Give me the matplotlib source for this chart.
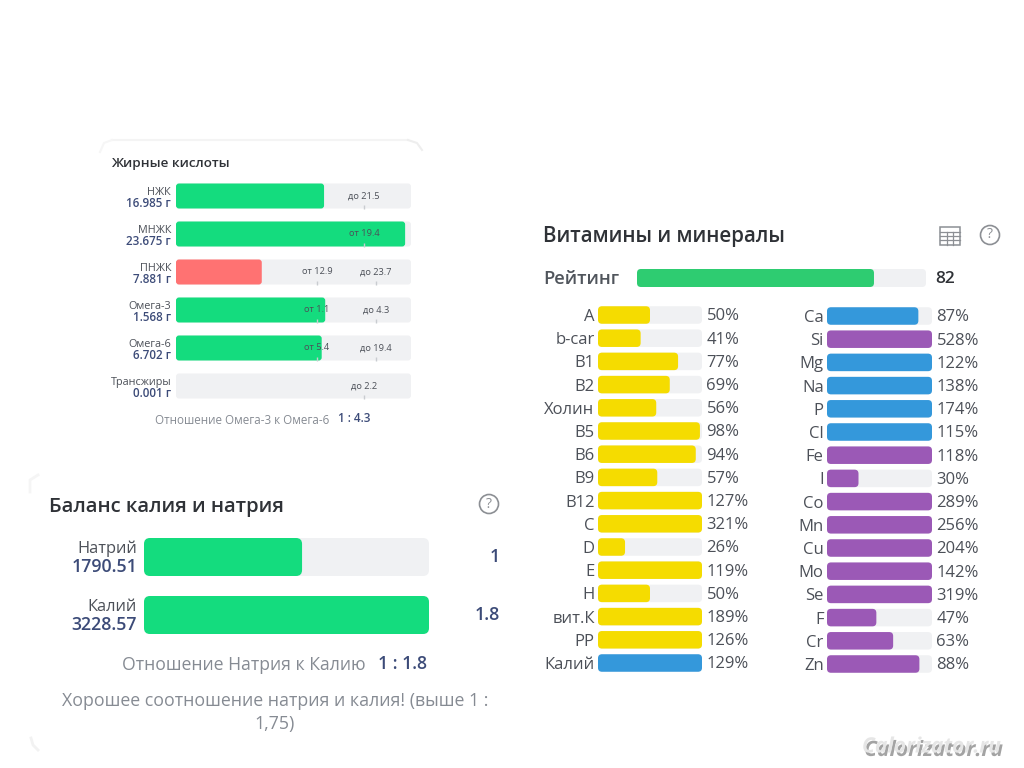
import matplotlib
matplotlib.use("Agg")
import matplotlib.pyplot as plt
import matplotlib.patheffects as pe
from matplotlib.patches import Circle, FancyBboxPatch, Rectangle

plt.rcParams['font.family'] = ['Open Sans', 'DejaVu Sans']

W, H = 1024, 768

# Fatty acids (fill and limit marks are in % of the track)
fat_names = ['НЖК', 'МНЖК', 'ПНЖК', 'Омега-3', 'Омега-6', 'Трансжиры']
fat_values = ['16.985 г', '23.675 г', '7.881 г', '1.568 г', '6.702 г', '0.001 г']
fat_fill = [63, 97.5, 36.5, 63.5, 62, 0]
fat_colors = ['#14dc7e', '#14dc7e', '#ff7272', '#14dc7e', '#14dc7e', '#14dc7e']
fat_low_text = [None, 'от 19.4', 'от 12.9', 'от 1.1', 'от 5.4', None]
fat_low_mark = [None, 80, 60, 60, 60, None]
fat_high_text = ['до 21.5', None, 'до 23.7', 'до 4.3', 'до 19.4', 'до 2.2']
fat_high_mark = [80, None, 85, 85, 85, 80]

# Potassium / sodium
balance_names = ['Натрий', 'Калий']
balance_values = [1790.51, 3228.57]
balance_ratio = ['1', '1.8']

# Vitamins and minerals
rating = 82
vit_names = ['A', 'b-car', 'B1', 'B2', 'Холин', 'B5', 'B6', 'B9', 'B12', 'C', 'D', 'E', 'H',
             'вит.К', 'PP', 'Калий']
vit_pct = [50, 41, 77, 69, 56, 98, 94, 57, 127, 321, 26, 119, 50, 189, 126, 129]
min_names = ['Ca', 'Si', 'Mg', 'Na', 'P', 'Cl', 'Fe', 'I', 'Co', 'Mn', 'Cu', 'Mo', 'Se', 'F',
             'Cr', 'Zn']
min_pct = [87, 528, 122, 138, 174, 115, 118, 30, 289, 256, 204, 142, 319, 47, 63, 88]

TRACK = '#f0f1f3'
GREEN = '#14dc7e'
YELLOW = '#f5dc00'
BLUE = '#3498db'
PURPLE = '#9b59b6'
NAVY = '#3c4b78'
DARK = '#2f3237'
LABEL = '#4c5058'
GREY = '#868b93'

vit_colors = [YELLOW] * 15 + [BLUE]
min_colors = [BLUE, PURPLE, BLUE, BLUE, BLUE, BLUE] + [PURPLE] * 10

fig = plt.figure(figsize=(W / 100, H / 100), dpi=100, facecolor='white')

# overlay in pixel coordinates for titles, icons and card edges
page = fig.add_axes([0, 0, 1, 1])
page.set_xlim(0, W)
page.set_ylim(H, 0)
page.axis('off')


def bar_axes(x0, x1, y0, y1, xmax, n):
    # axes over a pixel box, one row per unit on y
    ax = fig.add_axes([x0 / W, 1 - y1 / H, (x1 - x0) / W, (y1 - y0) / H])
    ax.set_xlim(0, xmax)
    ax.set_ylim(n - 0.5, -0.5)
    ax.patch.set_alpha(0)
    for s in ax.spines.values():
        s.set_visible(False)
    ax.set_xticks([])
    ax.set_yticks([])
    ax.tick_params(length=0)
    return ax


def rounded_bar(ax, row, value, height, color, radius=4, zorder=2):
    if value <= 0:
        return
    bbox = ax.get_position()
    xu = bbox.width * W / (ax.get_xlim()[1] - ax.get_xlim()[0])
    yu = bbox.height * H / abs(ax.get_ylim()[1] - ax.get_ylim()[0])
    ax.add_patch(FancyBboxPatch((0, row - height / 2), value, height,
                                boxstyle=f'round,pad=0,rounding_size={radius / xu}',
                                mutation_aspect=xu / yu, fc=color, ec='none', zorder=zorder))


def question_icon(x, y):
    page.add_patch(Circle((x, y), 9.5, fc='none', ec='#8c8f94', lw=1.2))
    page.text(x, y, '?', ha='center', va='center', fontsize=10, color='#8c8f94')


# card edges, barely visible in the picture
page.plot([112, 408], [140, 140], color='#f4f4f4', lw=1.5)
page.plot([100, 104, 112], [152, 143, 140], color='#f6f6f6', lw=1.5)
page.plot([408, 417, 422], [140, 143, 150], color='#eeeeee', lw=1.5)
page.plot([30, 30, 38], [492, 480, 475], color='#f5f5f5', lw=2)
page.plot([31, 33, 38], [738, 745, 750], color='#f2f2f2', lw=2)

# ---- fatty acids ----
page.text(111, 164, 'Жирные кислоты', fontsize=9.7, weight='semibold', color=DARK, va='center')
row_h = 25 / 38
ax = bar_axes(176, 411, 177, 405, 100, len(fat_names))
for i, name in enumerate(fat_names):
    rounded_bar(ax, i, 100, row_h, TRACK, radius=3, zorder=1)
    rounded_bar(ax, i, fat_fill[i], row_h, fat_colors[i], radius=3)
    ax.annotate(name, (0, i), xytext=(-3.5, 2.6), textcoords='offset points', ha='right',
                va='center', fontsize=7.8, color=LABEL, annotation_clip=False)
    ax.annotate(fat_values[i], (0, i), xytext=(-3.5, -5.5), textcoords='offset points', ha='right',
                va='center', fontsize=8.4, weight='semibold', color=NAVY, annotation_clip=False)
    for txt, mark in [(fat_low_text[i], fat_low_mark[i]), (fat_high_text[i], fat_high_mark[i])]:
        if mark is None:
            continue
        ax.text(mark, i, txt, ha='center', va='center', fontsize=6.7, color=LABEL, zorder=3)
        ax.vlines(mark, i + row_h / 2 - 0.08, i + row_h / 2, color='#c9ccd0', lw=1, zorder=3)
page.text(155, 420, 'Отношение Омега-3 к Омега-6', fontsize=8.4, color=GREY, va='center')
page.text(338, 419, '1 : 4.3', fontsize=8.4, weight='semibold', color=NAVY, va='center')

# ---- potassium / sodium balance ----
page.text(49, 507, 'Баланс калия и натрия', fontsize=14.6, weight='semibold', color=DARK,
          va='center')
question_icon(489, 504)
ax = bar_axes(144, 429, 528, 644, max(balance_values), 2)
for i, name in enumerate(balance_names):
    rounded_bar(ax, i, max(balance_values), 38 / 58, TRACK, radius=6, zorder=1)
    rounded_bar(ax, i, balance_values[i], 38 / 58, GREEN, radius=6)
    ax.annotate(name, (0, i), xytext=(-5, 6), textcoords='offset points', ha='right',
                va='center', fontsize=11.8, color=LABEL, annotation_clip=False)
    ax.annotate(f'{balance_values[i]:.2f}', (0, i), xytext=(-5, -7.2), textcoords='offset points',
                ha='right', va='center', fontsize=12.8, weight='semibold', color=NAVY,
                annotation_clip=False)
    ax.annotate(balance_ratio[i], (max(balance_values), i), xytext=(51, 0),
                textcoords='offset points', ha='right', va='center', fontsize=12.8,
                weight='semibold', color=NAVY, annotation_clip=False)
page.text(122, 665.5, 'Отношение Натрия к Калию', fontsize=12.7, color=GREY, va='center')
page.text(378, 664, '1 : 1.8', fontsize=12.7, weight='semibold', color=NAVY, va='center')
page.text(275, 701, 'Хорошее соотношение натрия и калия! (выше 1 :', fontsize=12.8, color=GREY,
          ha='center', va='center')
page.text(275, 723.5, '1,75)', fontsize=12.8, color=GREY, ha='center', va='center')

# ---- vitamins and minerals ----
page.text(543, 236.5, 'Витамины и минералы', fontsize=14.8, weight='semibold', color=DARK,
          va='center')
question_icon(990, 235)
page.add_patch(Rectangle((940, 226.5), 20, 18, fc='none', ec='#8c8f94', lw=1.1))
for gx in (946.7, 953.3):
    page.plot([gx, gx], [231.5, 244.5], color='#8c8f94', lw=0.9)
for gy in (231.5, 236, 240.3):
    page.plot([940, 960], [gy, gy], color='#8c8f94', lw=0.9)

page.text(543, 279, 'Рейтинг', fontsize=13.2, weight='semibold', color='#50555c', va='center')
ax = bar_axes(637, 926, 269, 287, 100, 1)
rounded_bar(ax, 0, 100, 1, TRACK, zorder=1)
rounded_bar(ax, 0, rating, 1, '#2ecc71')
ax.annotate(str(rating), (100, 0), xytext=(7, -1), textcoords='offset points', va='center',
            fontsize=12.4, weight='semibold', color=DARK, annotation_clip=False)

for names, pct, colors, x0, x1, y0 in [(vit_names, vit_pct, vit_colors, 598, 702, 303.4),
                                       (min_names, min_pct, min_colors, 827, 932, 304.4)]:
    ax = bar_axes(x0, x1, y0, y0 + 16 * 23.2, 100, len(names))
    ax.set_yticks(range(len(names)), names, fontsize=12, color=LABEL)
    ax.tick_params(axis='y', pad=2.4)
    for i, p in enumerate(pct):
        rounded_bar(ax, i, 100, 17.5 / 23.2, TRACK, zorder=1)
        rounded_bar(ax, i, min(p, 100), 17.5 / 23.2, colors[i])
        ax.annotate(f'{p}%', (100, i), xytext=(3.2, -1), textcoords='offset points', va='center',
                    fontsize=12, color=LABEL, annotation_clip=False)

# watermark
page.text(862, 747, 'Calorizator.ru', fontsize=15.2, weight='bold', style='italic',
          color='#e6e6e6', va='center',
          path_effects=[pe.withSimplePatchShadow(offset=(1.5, -2.5), shadow_rgbFace='#666666',
                                                 alpha=0.6)])

fig.savefig('out.png', dpi=100, facecolor='white')
